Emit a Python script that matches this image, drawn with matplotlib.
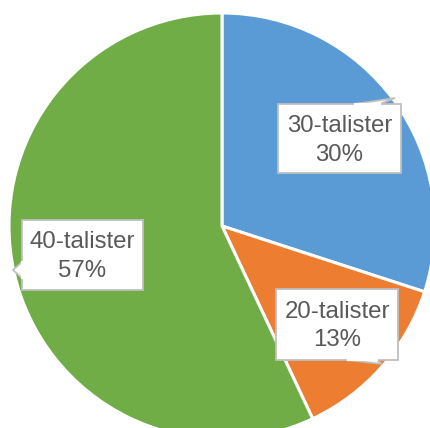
import matplotlib
matplotlib.use("Agg")
import matplotlib.pyplot as plt
from matplotlib.patches import Polygon

categories = ["30-talister", "20-talister", "40-talister"]
values = [30, 13, 57]
colors = ["#5B9BD5", "#ED7D31", "#70AD47"]

W, H = 430, 428
fig = plt.figure(figsize=(W / 100, H / 100), dpi=100)
ax = fig.add_axes([0, 0, 1, 1])

cx, cy, r = 222, H - 226, 213
ax.pie(values, colors=colors, startangle=90, counterclock=False,
       center=(cx, cy), radius=r, frame=True,
       wedgeprops=dict(edgecolor="white", linewidth=2.2))
ax.set_xlim(0, W)
ax.set_ylim(0, H)
ax.axis("off")

# label boxes (pixel coords, y from top): left, right, top, bottom, pointer polygon
boxes = {
    "30-talister": (278, 401, 104, 173, [(355, 104), (395, 98), (380, 104)]),
    "20-talister": (276, 398, 289, 360, [(348, 360), (382, 364), (377, 360)]),
    "40-talister": (22, 143, 220, 290, [(22, 262), (13, 270), (22, 278)]),
}

for cat, val in zip(categories, values):
    l, rgt, t, b, ptr = boxes[cat]
    pts = [(l, t), (rgt, t), (rgt, b), (l, b)]
    box = Polygon([(x, H - y) for x, y in pts], closed=True,
                  facecolor="white", edgecolor="#BFBFBF", linewidth=1.3, zorder=5)
    ax.add_patch(box)
    tri = Polygon([(x, H - y) for x, y in ptr], closed=True,
                  facecolor="white", edgecolor="#BFBFBF", linewidth=1.3, zorder=5)
    ax.add_patch(tri)
    (x0, y0), _, (x2, y2) = ptr
    ax.plot([x0, x2], [H - y0, H - y2], color="white", linewidth=1.6, zorder=6)
    mx = (l + rgt) / 2
    my = (t + b) / 2 + 1.5
    ax.text(mx, H - (my - 14.5), cat, ha="center", va="center", fontsize=17.3,
            color="#595959", family="Liberation Sans", zorder=7)
    ax.text(mx, H - (my + 14.5), f"{val}%", ha="center", va="center", fontsize=17.3,
            color="#595959", family="Liberation Sans", zorder=7)

fig.savefig("out.png", dpi=100)
